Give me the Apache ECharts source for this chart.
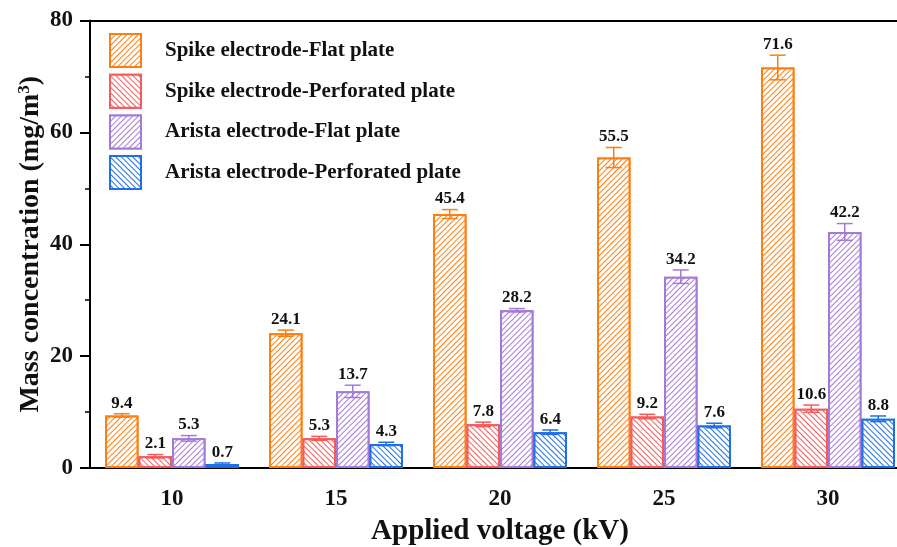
<!DOCTYPE html>
<html><head><meta charset="utf-8">
<script src="https://cdn.jsdelivr.net/npm/echarts@6/dist/echarts.min.js"></script>
<style>html,body{margin:0;padding:0;background:#fff}#c{width:897px;height:547px}</style>
</head><body><div id="c"></div>
<script>
var categories = ['10', '15', '20', '25', '30'];
var seriesNames = ['Spike electrode-Flat plate', 'Spike electrode-Perforated plate', 'Arista electrode-Flat plate', 'Arista electrode-Perforated plate'];
var spikeFlat = [9.4, 24.1, 45.4, 55.5, 71.6];
var spikePerf = [2.1, 5.3, 7.8, 9.2, 10.6];
var aristaFlat = [5.3, 13.7, 28.2, 34.2, 42.2];
var aristaPerf = [0.7, 4.3, 6.4, 7.6, 8.8];
var spikeFlatErr = [0.3, 0.55, 0.8, 1.8, 2.2];
var spikePerfErr = [0.3, 0.35, 0.4, 0.4, 0.65];
var aristaFlatErr = [0.5, 1.1, 0.3, 1.2, 1.5];
var aristaPerfErr = [0.2, 0.3, 0.4, 0.4, 0.5];
var yTicks = [0, 20, 40, 60, 80];

var colors = ['#FF7F0E', '#F45B5B', '#A47AD8', '#1F6FE5'];
var values = [spikeFlat, spikePerf, aristaFlat, aristaPerf];
var errs = [spikeFlatErr, spikePerfErr, aristaFlatErr, aristaPerfErr];
var rot = [-Math.PI / 4, Math.PI / 4, -Math.PI / 4, Math.PI / 4];
var BW = 33.5;
var FONT = '"Liberation Serif","Times New Roman",serif';

var series = [];
values.forEach(function (vals, i) {
  series.push({
    name: seriesNames[i], type: 'bar', data: vals, barWidth: BW, barGap: '0%',
    itemStyle: {
      color: '#ffffff', borderColor: colors[i], borderWidth: 2,
      decal: { symbol: 'rect', color: colors[i], backgroundColor: '#ffffff', dashArrayX: [1, 0], dashArrayY: [1, 3], rotation: rot[i], symbolSize: 1 }
    }
  });
});
values.forEach(function (vals, i) {
  var off = (i - 1.5) * BW;
  series.push({
    type: 'custom', name: seriesNames[i] + ' err', z: 5,
    data: vals.map(function (v, k) { return [k, v, errs[i][k]]; }),
    renderItem: function (params, api) {
      var k = api.value(0), v = api.value(1), e = api.value(2);
      var top = api.coord([k, v + e]);
      var bot = api.coord([k, v - e]);
      var x = top[0] + off;
      var cw = 8;
      var st = { stroke: colors[i], lineWidth: 1.5 };
      return { type: 'group', children: [
        { type: 'line', shape: { x1: x, y1: top[1], x2: x, y2: bot[1] }, style: st },
        { type: 'line', shape: { x1: x - cw, y1: top[1], x2: x + cw, y2: top[1] }, style: st },
        { type: 'line', shape: { x1: x - cw, y1: bot[1], x2: x + cw, y2: bot[1] }, style: st },
        { type: 'text', x: x, y: top[1] - 2, style: { text: v.toFixed(1), fill: '#111', font: 'bold 17px ' + FONT, textAlign: 'center', textVerticalAlign: 'bottom' } }
      ] };
    }
  });
});

var chart = echarts.init(document.getElementById('c'), null, { renderer: 'canvas' });
chart.setOption({
  animation: false,
  backgroundColor: '#ffffff',
  grid: { left: 90, width: 820, top: 20.5, bottom: 79, containLabel: false, outerBoundsMode: 'none' },
  legend: {
    data: seriesNames, orient: 'vertical', left: 104, top: 28, itemWidth: 31, itemHeight: 33, itemGap: 5.7, icon: 'rect',
    textStyle: { fontFamily: FONT, fontWeight: 'bold', fontSize: 21, color: '#111', padding: [0, 0, 0, 19] }
  },
  xAxis: [{
    type: 'category', data: categories, boundaryGap: true,
    axisLine: { lineStyle: { color: '#000', width: 2 } },
    axisTick: { alignWithLabel: true, length: 10, lineStyle: { color: '#000', width: 2 } },
    axisLabel: { fontFamily: FONT, fontWeight: 'bold', fontSize: 23, color: '#111', margin: 20 },
    name: 'Applied voltage (kV)', nameLocation: 'middle', nameGap: 49,
    nameTextStyle: { fontFamily: FONT, fontWeight: 'bold', fontSize: 29, color: '#111' }
  }, {
    type: 'category', data: categories, position: 'top',
    axisLine: { lineStyle: { color: '#000', width: 2 } }, axisTick: { show: false }, axisLabel: { show: false }
  }],
  yAxis: {
    type: 'value', min: yTicks[0], max: yTicks[yTicks.length - 1], interval: 20,
    axisLine: { show: true, lineStyle: { color: '#000', width: 2 } },
    axisTick: { show: true, length: 10, lineStyle: { color: '#000', width: 2 } },
    minorTick: { show: true, splitNumber: 2, length: 5, lineStyle: { color: '#000', width: 1.5 } },
    splitLine: { show: false },
    axisLabel: { fontFamily: FONT, fontWeight: 'bold', fontSize: 23, color: '#111', margin: 17 },
    name: 'Mass concentration (mg/m{sup|3})', nameLocation: 'middle', nameGap: 45, nameRotate: 90, nameMoveOverlap: false,
    nameTextStyle: { fontFamily: FONT, fontWeight: 'bold', fontSize: 28, color: '#111',
      rich: { sup: { fontFamily: FONT, fontWeight: 'bold', fontSize: 17, color: '#111', verticalAlign: 'top', padding: [0, 0, 12, 0] } } }
  },
  series: series
});
</script></body></html>
